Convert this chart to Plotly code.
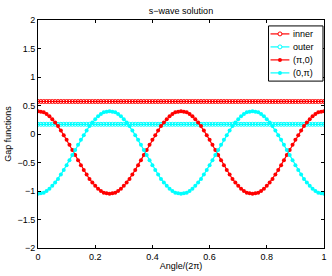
import plotly.graph_objects as go

angle = [round(i * 0.01, 2) for i in range(101)]

inner = [0.57] * 101
outer = [0.17] * 101

half_pi0 = [0.40, 0.39, 0.38, 0.35, 0.31, 0.26, 0.20, 0.14, 0.06, -0.02,
            -0.10, -0.19, -0.28, -0.37, -0.46, -0.55, -0.63, -0.71, -0.79, -0.85,
            -0.91, -0.96, -1.00, -1.03, -1.04, -1.05, -1.04, -1.03, -1.00, -0.96,
            -0.91, -0.85, -0.79, -0.71, -0.63, -0.55, -0.46, -0.37, -0.28, -0.19,
            -0.10, -0.02, 0.06, 0.14, 0.20, 0.26, 0.31, 0.35, 0.38, 0.39]
pi0 = half_pi0 + half_pi0 + [0.40]

half_0pi = [-1.05, -1.04, -1.03, -1.00, -0.96, -0.91, -0.85, -0.79, -0.71, -0.63,
            -0.55, -0.46, -0.37, -0.28, -0.19, -0.10, -0.02, 0.06, 0.14, 0.20,
            0.26, 0.31, 0.35, 0.38, 0.39, 0.40, 0.39, 0.38, 0.35, 0.31,
            0.26, 0.20, 0.14, 0.06, -0.02, -0.10, -0.19, -0.28, -0.37, -0.46,
            -0.55, -0.63, -0.71, -0.79, -0.85, -0.91, -0.96, -1.00, -1.03, -1.04]
zpi = half_0pi + half_0pi + [-1.05]

names = ["inner", "outer", "(π,0)", "(0,π)"]
xticks = [0, 0.2, 0.4, 0.6, 0.8, 1]
yticks = [-2, -1.5, -1, -0.5, 0, 0.5, 1, 1.5, 2]

RED = "#ff0000"
CYAN = "#00ffff"
colors = [RED, CYAN, RED, CYAN]
open_marker = [True, True, False, False]
series = [inner, outer, pi0, zpi]

fig = go.Figure()
for name, ys, col, op in zip(names, series, colors, open_marker):
    if op:
        mk = dict(symbol="circle-open", size=4, color=col, line=dict(width=1, color=col))
    else:
        mk = dict(symbol="circle", size=4, color=col, line=dict(width=0))
    fig.add_trace(go.Scatter(
        x=angle, y=ys, name=name, mode="lines+markers",
        line=dict(color=col, width=1.2), marker=mk, showlegend=False))

# manual legend (MATLAB style box)
shapes = [dict(type="rect", xref="paper", yref="paper", x0=0.806, x1=0.9965,
               y0=0.732, y1=0.974, line=dict(color="black", width=1),
               fillcolor="white", layer="above")]
annotations = []
leg_y = [0.939, 0.882, 0.825, 0.768]
for name, col, op, yy in zip(names, colors, open_marker, leg_y):
    shapes.append(dict(type="line", xref="paper", yref="paper", x0=0.813, x1=0.879,
                       y0=yy, y1=yy, line=dict(color=col, width=1.2), layer="above"))
    shapes.append(dict(type="circle", xref="paper", yref="paper",
                       xsizemode="pixel", ysizemode="pixel",
                       xanchor=0.846, yanchor=yy, x0=-2, x1=2, y0=-2, y1=2,
                       line=dict(color=col, width=1 if op else 0),
                       fillcolor="white" if op else col, layer="above"))
    annotations.append(dict(xref="paper", yref="paper", x=0.884, y=yy, text=name,
                            showarrow=False, xanchor="left", yanchor="middle",
                            font=dict(size=9, color="black")))

axis_common = dict(showline=True, linecolor="black", linewidth=1, mirror="ticks",
                   ticks="inside", ticklen=3, tickcolor="black", showgrid=False,
                   zeroline=False, tickfont=dict(size=9, color="black"))

fig.update_layout(
    width=332, height=276,
    margin=dict(l=38, r=5, t=20, b=28),
    paper_bgcolor="white", plot_bgcolor="white",
    font=dict(family="Liberation Sans, Arial, sans-serif", size=9, color="black"),
    title=dict(text="s−wave solution", x=0.5, xref="paper", xanchor="center",
               y=0.962, yanchor="middle", font=dict(size=9)),
    xaxis=dict(range=[0, 1], tickvals=xticks, ticktext=[str(v) for v in xticks],
               title=dict(text="Angle/(2π)", standoff=1, font=dict(size=9)), **axis_common),
    yaxis=dict(range=[-2, 2], tickvals=yticks,
               ticktext=[("−" if v < 0 else "") + ("%g" % abs(v)) for v in yticks],
               title=dict(text="Gap functions", standoff=4, font=dict(size=9)), **axis_common),
    shapes=shapes,
    annotations=annotations,
    showlegend=False,
)

fig.write_html("out.html", config={"displayModeBar": False},
               post_script="document.body.style.margin='0';")
